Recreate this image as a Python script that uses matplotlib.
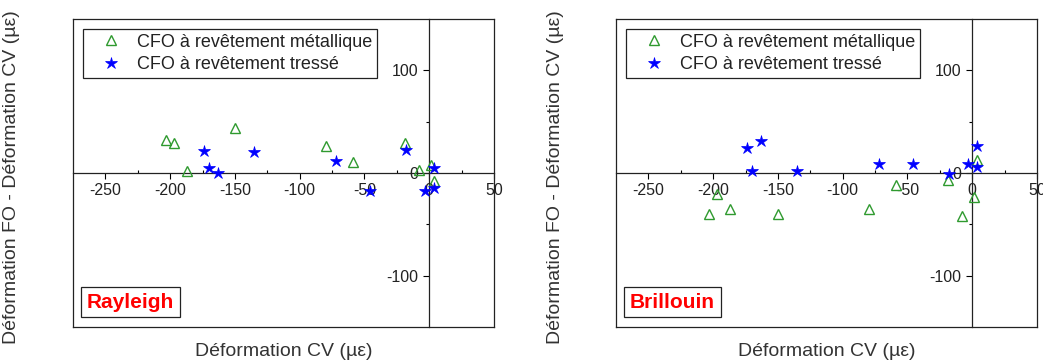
import matplotlib
matplotlib.use("Agg")
import matplotlib.pyplot as plt
from matplotlib.lines import Line2D

plt.rcParams["font.family"] = ["Liberation Sans", "DejaVu Sans"]
plt.rcParams["axes.unicode_minus"] = False

# Strain measured on the reference (CV) and difference FO - CV, in microstrain
x_metal = [-203, -197, -187, -150, -80, -59, -19, -8, 1, 4]
x_braid = [-174, -170, -163, -135, -72, -46, -18, -3, 4, 4]

rayleigh_metal = [32, 29, 2, 44, 26, 11, 29, 3, 8, -8]
rayleigh_braid = [21, 5, 0, 20, 12, -18, 22, -18, 5, -15]

brillouin_metal = [-40, -20, -35, -40, -35, -12, -7, -42, -23, 13]
brillouin_braid = [24, 2, 31, 2, 9, 9, -1, 9, 6, 26]

legend_labels = ["CFO à revêtement métallique", "CFO à revêtement tressé"]
panel_titles = ["Rayleigh", "Brillouin"]
x_ticks = [-250, -200, -150, -100, -50, 0, 50]
y_ticks = [-100, 0, 100]
x_label = "Déformation CV (µε)"
y_label = "Déformation FO - Déformation CV (µε)"

GREEN = "#2f9a2f"
BLUE = "#0000ff"

W, H = 1043, 362
fig = plt.figure(figsize=(W / 100, H / 100), dpi=100)


def px_axes(left, top, right, bottom):
    return fig.add_axes([left / W, 1 - bottom / H, (right - left) / W, (bottom - top) / H])


def draw_panel(ax, metal, braid, title):
    ax.plot(x_metal, metal, linestyle="none", marker="^", ms=7, mfc="none",
            mec=GREEN, mew=1.0, label=legend_labels[0], zorder=3, clip_on=False)
    ax.plot(x_braid, braid, linestyle="none", marker="*", ms=9, mfc=BLUE,
            mec=BLUE, mew=0.5, label=legend_labels[1], zorder=4, clip_on=False)

    ax.set_xlim(-275, 50)
    ax.set_ylim(-150, 150)

    # axes crossing at the origin, plus a closed frame
    ax.spines["left"].set_position(("data", 0))
    ax.spines["bottom"].set_position(("data", 0))
    for s in ax.spines.values():
        s.set_linewidth(0.9)
        s.set_color("#222222")
    for xs, ys in (([0, 0], [0, 1]), ([0, 1], [0, 0])):
        ax.add_line(Line2D(xs, ys, transform=ax.transAxes, color="#222222",
                           lw=0.9, clip_on=False))

    ax.set_xticks(x_ticks)
    ax.set_xticks([-225, -175, -125, -75, -25, 25], minor=True)
    ax.set_yticks(y_ticks)
    ax.set_yticks([-50, 50], minor=True)
    ax.tick_params(axis="x", which="major", direction="out", length=4, width=0.8,
                   pad=3, labelsize=11.5, labelcolor="#222222")
    ax.tick_params(axis="x", which="minor", direction="in", length=2.5, width=0.8)
    ax.tick_params(axis="y", which="major", direction="out", length=4, width=0.8,
                   pad=4, labelsize=11.5, labelcolor="#222222")
    ax.tick_params(axis="y", which="minor", direction="out", length=2.5, width=0.8)

    leg = ax.legend(loc="upper left", bbox_to_anchor=(0.024, 0.967),
                    borderaxespad=0, fontsize=13, frameon=True, fancybox=False,
                    edgecolor="#222222", framealpha=1, numpoints=1,
                    handlelength=2.6, handletextpad=0.15, borderpad=0.25,
                    labelspacing=0.3)
    leg.get_frame().set_linewidth(0.9)
    for t in leg.get_texts():
        t.set_color("#222222")

    ax.text(0.033, 0.081, title, transform=ax.transAxes, color="#ff0000",
            fontsize=15, fontweight="bold", va="center", ha="left",
            bbox=dict(boxstyle="square,pad=0.28", fc="white", ec="#222222", lw=0.9))


ax1 = px_axes(73, 19, 494, 327)
draw_panel(ax1, rayleigh_metal, rayleigh_braid, panel_titles[0])
ax2 = px_axes(616, 19, 1037, 327)
draw_panel(ax2, brillouin_metal, brillouin_braid, panel_titles[1])

for xc, axl, axr in ((12, 73, 494), (555, 616, 1037)):
    fig.text(xc / W, 1 - 177 / H, y_label, rotation=90, ha="center", va="center",
             fontsize=14, color="#333333")
    fig.text((axl + axr) / 2 / W, 1 - 352 / H, x_label, ha="center", va="center",
             fontsize=14, color="#333333")

fig.savefig("out.png", dpi=100)
